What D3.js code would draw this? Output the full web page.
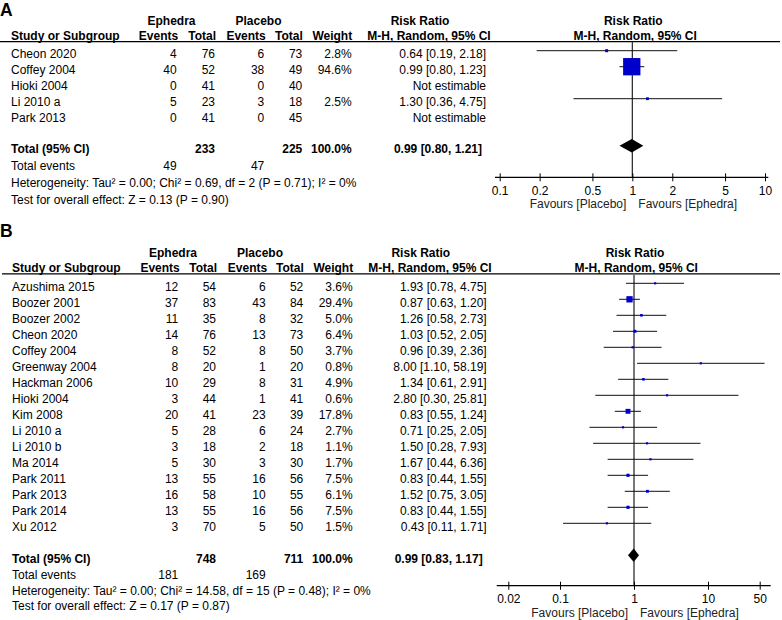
<!DOCTYPE html>
<html><head><meta charset="utf-8">
<script src="https://cdn.jsdelivr.net/npm/d3@7"></script>
<style>
body{margin:0;background:#fff}
svg{display:block}
text{font-family:"Liberation Sans",Arial,Helvetica,sans-serif;font-size:12px;fill:#000}
</style>
</head><body><svg id="c" width="782" height="620"></svg>
<script>
// ---------- Panel A data ----------
const studiesA   = ["Cheon 2020","Coffey 2004","Hioki 2004","Li 2010 a","Park 2013"];
const ephEventsA = [4,40,0,5,0];
const ephTotalA  = [76,52,41,23,41];
const plaEventsA = [6,38,0,3,0];
const plaTotalA  = [73,49,40,18,45];
const weightA    = [2.8,94.6,null,2.5,null];
const rrA        = [0.64,0.99,null,1.30,null];
const lowA       = [0.19,0.80,null,0.36,null];
const highA      = [2.18,1.23,null,4.75,null];
const totalsA    = [233,225];
const eventsA    = [49,47];
const pooledA    = [0.99,0.80,1.21];
const hetA  = "Heterogeneity: Tau² = 0.00; Chi² = 0.69, df = 2 (P = 0.71); I² = 0%";
const testA = "Test for overall effect: Z = 0.13 (P = 0.90)";
const ticksA      = [0.1,0.2,0.5,1,2,5,10];
const tickLabelsA = ["0.1","0.2","0.5","1","2","5","10"];

// ---------- Panel B data ----------
const studiesB   = ["Azushima 2015","Boozer 2001","Boozer 2002","Cheon 2020","Coffey 2004","Greenway 2004","Hackman 2006","Hioki 2004","Kim 2008","Li 2010 a","Li 2010 b","Ma 2014","Park 2011","Park 2013","Park 2014","Xu 2012"];
const ephEventsB = [12,37,11,14,8,8,10,3,20,5,3,5,13,16,13,3];
const ephTotalB  = [54,83,35,76,52,20,29,44,41,28,18,30,55,58,55,70];
const plaEventsB = [6,43,8,13,8,1,8,1,23,6,2,3,16,10,16,5];
const plaTotalB  = [52,84,32,73,50,20,31,41,39,24,18,30,56,55,56,50];
const weightB    = [3.6,29.4,5.0,6.4,3.7,0.8,4.9,0.6,17.8,2.7,1.1,1.7,7.5,6.1,7.5,1.5];
const rrB        = [1.93,0.87,1.26,1.03,0.96,8.00,1.34,2.80,0.83,0.71,1.50,1.67,0.83,1.52,0.83,0.43];
const lowB       = [0.78,0.63,0.58,0.52,0.39,1.10,0.61,0.30,0.55,0.25,0.28,0.44,0.44,0.75,0.44,0.11];
const highB      = [4.75,1.20,2.73,2.05,2.36,58.19,2.91,25.81,1.24,2.05,7.93,6.36,1.55,3.05,1.55,1.71];
const totalsB    = [748,711];
const eventsB    = [181,169];
const pooledB    = [0.99,0.83,1.17];
const hetB  = "Heterogeneity: Tau² = 0.00; Chi² = 14.58, df = 15 (P = 0.48); I² = 0%";
const testB = "Test for overall effect: Z = 0.17 (P = 0.87)";
const ticksB      = [0.02,0.1,1,10,50];
const tickLabelsB = ["0.02","0.1","1","10","50"];

const svg = d3.select("#c");
const fmt2 = d3.format(".2f");
const fmtW = d3.format(".1f");
const ciText = (r,l,h) => r == null ? "Not estimable" : `${fmt2(r)} [${fmt2(l)}, ${fmt2(h)}]`;

function drawPanel(d, L) {
  const g = svg.append("g");
  const t = (x, y, s, anchor, bold) => g.append("text")
      .attr("x", x).attr("y", y)
      .attr("text-anchor", anchor || "start")
      .style("font-weight", bold ? "bold" : "normal")
      .text(s);

  // panel label
  g.append("text").attr("x", L.labelX).attr("y", L.labelY)
    .style("font-size", "17.5px").style("font-weight", "bold").text(d.label);

  // headers
  t(L.ephHeadX, L.h1, "Ephedra", "middle", true);
  t(L.plaHeadX, L.h1, "Placebo", "middle", true);
  t(L.rrHeadX, L.h1, "Risk Ratio", "middle", true);
  t(L.plotHeadX, L.h1, "Risk Ratio", "middle", true);
  t(L.nameX, L.h2, "Study or Subgroup", "start", true);
  t(L.cols[0] + 1.5, L.h2, "Events", "end", true);
  t(L.cols[1] + 1, L.h2, "Total", "end", true);
  t(L.cols[2] + 1.5, L.h2, "Events", "end", true);
  t(L.cols[3] + 0.5, L.h2, "Total", "end", true);
  t(L.cols[4] + 0.5, L.h2, "Weight", "end", true);
  t(L.rrHead2X, L.h2, "M-H, Random, 95% CI", "middle", true);
  t(L.plotHead2X, L.h2, "M-H, Random, 95% CI", "middle", true);
  g.append("line").attr("x1", L.lineX0).attr("x2", L.lineX1)
    .attr("y1", L.lineY).attr("y2", L.lineY)
    .attr("stroke", "#000").attr("stroke-width", 1.2);

  const yRow = d3.scaleLinear().domain([0, 1]).range([L.row0, L.row0 + L.step]);
  const x = d3.scaleLog().domain(L.xDomain).range(L.xRange);
  const box = d3.scaleSqrt().domain([0, 100]).range([0, L.maxBox]);
  const TB = 7.3; // text baseline offset from row centre

  // vertical line of no effect
  g.append("line").attr("x1", x(1)).attr("x2", x(1))
    .attr("y1", L.lineY).attr("y2", L.axisY)
    .attr("stroke", L.vColor).attr("stroke-width", L.vWidth);

  d.studies.forEach((s, i) => {
    const y = yRow(i);
    t(L.nameX, y + TB, s);
    t(L.cols[0], y + TB, d.ephEvents[i], "end");
    t(L.cols[1], y + TB, d.ephTotal[i], "end");
    t(L.cols[2], y + TB, d.plaEvents[i], "end");
    t(L.cols[3], y + TB, d.plaTotal[i], "end");
    if (d.weight[i] != null) t(L.cols[4], y + TB, fmtW(d.weight[i]) + "%", "end");
    t(L.rrX, y + TB, ciText(d.rr[i], d.low[i], d.high[i]), "end");
    if (d.rr[i] != null) {
      g.append("line").attr("x1", x(d.low[i])).attr("x2", x(d.high[i]))
        .attr("y1", y).attr("y2", y).attr("stroke", "#111").attr("stroke-width", 1);
      const sz = Math.max(2.2, box(d.weight[i]));
      g.append("rect").attr("x", x(d.rr[i]) - sz / 2).attr("y", y - sz / 2)
        .attr("width", sz).attr("height", sz).attr("fill", "#0000CC");
    }
  });

  // total row
  const ty = L.totalY;
  t(L.nameX, ty + TB, "Total (95% CI)", "start", true);
  t(L.cols[1], ty + TB, d.totals[0], "end", true);
  t(L.cols[3], ty + TB, d.totals[1], "end", true);
  t(L.cols[4], ty + TB, "100.0%", "end", true);
  t(L.rrX - 4, ty + TB, ciText(d.pooled[0], d.pooled[1], d.pooled[2]), "end", true);
  const dh = 6.7;
  g.append("path")
    .attr("d", `M${x(d.pooled[1])},${ty}L${x(d.pooled[0])},${ty - dh}L${x(d.pooled[2])},${ty}L${x(d.pooled[0])},${ty + dh}Z`)
    .attr("fill", "#000");

  t(L.nameX, L.eventsY, "Total events");
  t(L.cols[0], L.eventsY, d.events[0], "end");
  t(L.cols[2], L.eventsY, d.events[1], "end");
  t(L.nameX, L.hetY, d.het);
  t(L.nameX, L.testY, d.test);

  // axis
  const axis = d3.axisBottom(x).tickValues(d.ticks)
    .tickFormat((v, i) => d.tickLabels[i]).tickSizeInner(4).tickSizeOuter(0);
  const ag = g.append("g").attr("transform", `translate(0,${L.axisY})`).call(axis);
  ag.attr("font-size", null).attr("font-family", null);
  ag.select(".domain").remove();
  ag.selectAll(".tick line").attr("y1", -4).attr("y2", 4).attr("stroke", "#000");
  ag.selectAll(".tick text").attr("y", 17.3).attr("dy", null).attr("fill", null);
  g.append("line").attr("x1", L.axisX0).attr("x2", L.axisX1)
    .attr("y1", L.axisY).attr("y2", L.axisY).attr("stroke", "#000").attr("stroke-width", 1.2);
  t(x(1) - 6, L.axisY + 31, "Favours [Placebo]", "end").style("fill", "#222");
  t(x(1) + 6, L.axisY + 31, "Favours [Ephedra]", "start").style("fill", "#222");
}

drawPanel({
  label: "A", studies: studiesA, ephEvents: ephEventsA, ephTotal: ephTotalA,
  plaEvents: plaEventsA, plaTotal: plaTotalA, weight: weightA, rr: rrA, low: lowA, high: highA,
  totals: totalsA, events: eventsA, pooled: pooledA, het: hetA, test: testA,
  ticks: ticksA, tickLabels: tickLabelsA
}, {
  labelX: 0, labelY: 16, h1: 25, h2: 40, lineY: 41.7, lineX0: 0, lineX1: 780,
  nameX: 11, cols: [176.7, 215, 264.3, 302.3, 351.7], rrX: 486,
  ephHeadX: 171.5, plaHeadX: 258.5, rrHeadX: 420, rrHead2X: 429, plotHeadX: 633.3, plotHead2X: 635.2,
  row0: 50.7, step: 16, totalY: 145.7, eventsY: 170, hetY: 186.7, testY: 204,
  axisY: 177.3, axisX0: 495, axisX1: 768.3, xDomain: [0.1, 10], xRange: [499.7, 765],
  maxBox: 17.8, vColor: "#333", vWidth: 1.3
});

drawPanel({
  label: "B", studies: studiesB, ephEvents: ephEventsB, ephTotal: ephTotalB,
  plaEvents: plaEventsB, plaTotal: plaTotalB, weight: weightB, rr: rrB, low: lowB, high: highB,
  totals: totalsB, events: eventsB, pooled: pooledB, het: hetB, test: testB,
  ticks: ticksB, tickLabels: tickLabelsB
}, {
  labelX: 0, labelY: 236.7, h1: 257.3, h2: 272.3, lineY: 273.8, lineX0: 2, lineX1: 780,
  nameX: 12, cols: [178.3, 216, 265.7, 303.3, 352.7], rrX: 486.7,
  ephHeadX: 173, plaHeadX: 260, rrHeadX: 420.8, rrHead2X: 430, plotHeadX: 635, plotHead2X: 636.3,
  row0: 283.3, step: 16, totalY: 555.3, eventsY: 578.7, hetY: 595.3, testY: 610,
  axisY: 585.7, axisX0: 496.7, axisX1: 770.7, xDomain: [0.02, 50], xRange: [508.3, 759.7],
  maxBox: 11.6, vColor: "#777", vWidth: 2
});
</script>
</body></html>
